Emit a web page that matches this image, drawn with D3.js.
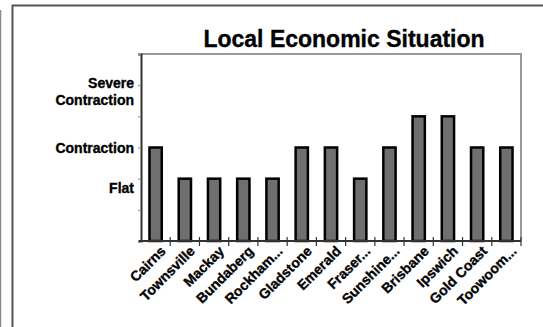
<!DOCTYPE html>
<html>
<head>
<meta charset="utf-8">
<script src="https://cdn.jsdelivr.net/npm/d3@7"></script>
<style>
  body { margin: 0; background: #fff; }
  svg text { font-family: "Liberation Sans", Arial, sans-serif; font-weight: bold; fill: #000;
     stroke: #000; stroke-width: 0.35px; }
</style>
</head>
<body>
<div id="chart"></div>
<script>
const regions = ["Cairns", "Townsville", "Mackay", "Bundaberg", "Rockham...", "Gladstone",
   "Emerald", "Fraser...", "Sunshine...", "Brisbane", "Ipswich", "Gold Coast", "Toowoom..."];
const levels = [3, 2, 2, 2, 2, 3, 3, 2, 3, 4, 4, 3, 3];
const yTicks = [0, 1, 2, 3, 4, 5, 6];
const yLabelText = [["Flat"], ["Contraction"], ["Severe", "Contraction"]];
const yLabelValue = [1.7, 3, 4.8];

const width = 543, height = 327;
const margin = { top: 54, right: 22, bottom: 86, left: 141 };

const svg = d3.select("#chart").append("svg")
   .attr("width", width)
   .attr("height", height);

// outer frame
svg.append("line").attr("x1", 0.5).attr("x2", 0.5).attr("y1", 10).attr("y2", height)
   .attr("stroke", "#8a8a8a").attr("stroke-width", 1.5);
svg.append("path").attr("d", `M12.5,${height}V5.5H${width}`)
   .attr("fill", "none").attr("stroke", "#555").attr("stroke-width", 2);

svg.append("text")
   .attr("x", 344)
   .attr("y", 47)
   .attr("text-anchor", "middle")
   .style("font-size", "23px")
   .text("Local Economic Situation");

const x = d3.scaleBand()
   .domain(regions)
   .range([margin.left, width - margin.right])
   .paddingInner(0.58)
   .paddingOuter(0.29);

const y = d3.scaleLinear()
   .domain([0, 6])
   .range([height - margin.bottom, margin.top]);

// plot border (top + right)
svg.append("path")
   .attr("d", `M${margin.left},${margin.top}H${width - margin.right}V${height - margin.bottom}`)
   .attr("fill", "none").attr("stroke", "#999").attr("stroke-width", 2);

// y axis
const yAxis = d3.axisLeft(y).tickValues(yTicks).tickSize(3).tickFormat("");
const gy = svg.append("g")
   .attr("transform", `translate(${margin.left},0)`)
   .call(yAxis);
gy.select(".domain").attr("stroke", "#333").attr("stroke-width", 2);
gy.selectAll(".tick line").attr("stroke", "#888");

const labels = svg.append("g");
yLabelText.forEach((lines, i) => {
   const t = labels.append("text")
      .attr("x", margin.left - 7)
      .attr("y", y(yLabelValue[i]) - (lines.length - 1) * 8.5 + 5)
      .attr("text-anchor", "end")
      .style("font-size", "14px");
   lines.forEach((s, j) => t.append("tspan")
      .attr("x", margin.left - 7)
      .attr("dy", j ? 17 : 0)
      .text(s));
});

// bars
svg.selectAll("rect.bar")
   .data(regions)
   .enter()
   .append("rect")
   .attr("class", "bar")
   .attr("x", d => x(d))
   .attr("width", x.bandwidth())
   .attr("y", (d, i) => y(levels[i]))
   .attr("height", (d, i) => y(0) - y(levels[i]))
   .attr("fill", "#6d6f71")
   .attr("stroke", "#000")
   .attr("stroke-width", 2.5);

// x axis with ticks between categories
const step = x.step();
const boundaries = regions.map((d, i) => margin.left + step * (i + 1));
const gx = svg.append("g");
gx.append("line")
   .attr("x1", margin.left - 2).attr("x2", width - margin.right)
   .attr("y1", y(0)).attr("y2", y(0))
   .attr("stroke", "#333").attr("stroke-width", 2);
gx.selectAll("line.tick")
   .data(boundaries)
   .enter()
   .append("line")
   .attr("class", "tick")
   .attr("x1", d => d).attr("x2", d => d)
   .attr("y1", y(0) - 4).attr("y2", y(0) + 5)
   .attr("stroke", "#333").attr("stroke-width", 1.2);

gx.selectAll("text.xlabel")
   .data(regions)
   .enter()
   .append("text")
   .attr("class", "xlabel")
   .attr("text-anchor", "end")
   .style("font-size", "14px")
   .attr("transform", d => `translate(${x(d) + x.bandwidth() / 2 + 11},${y(0) + 11}) rotate(-45)`)
   .text(d => d);
</script>
</body>
</html>
